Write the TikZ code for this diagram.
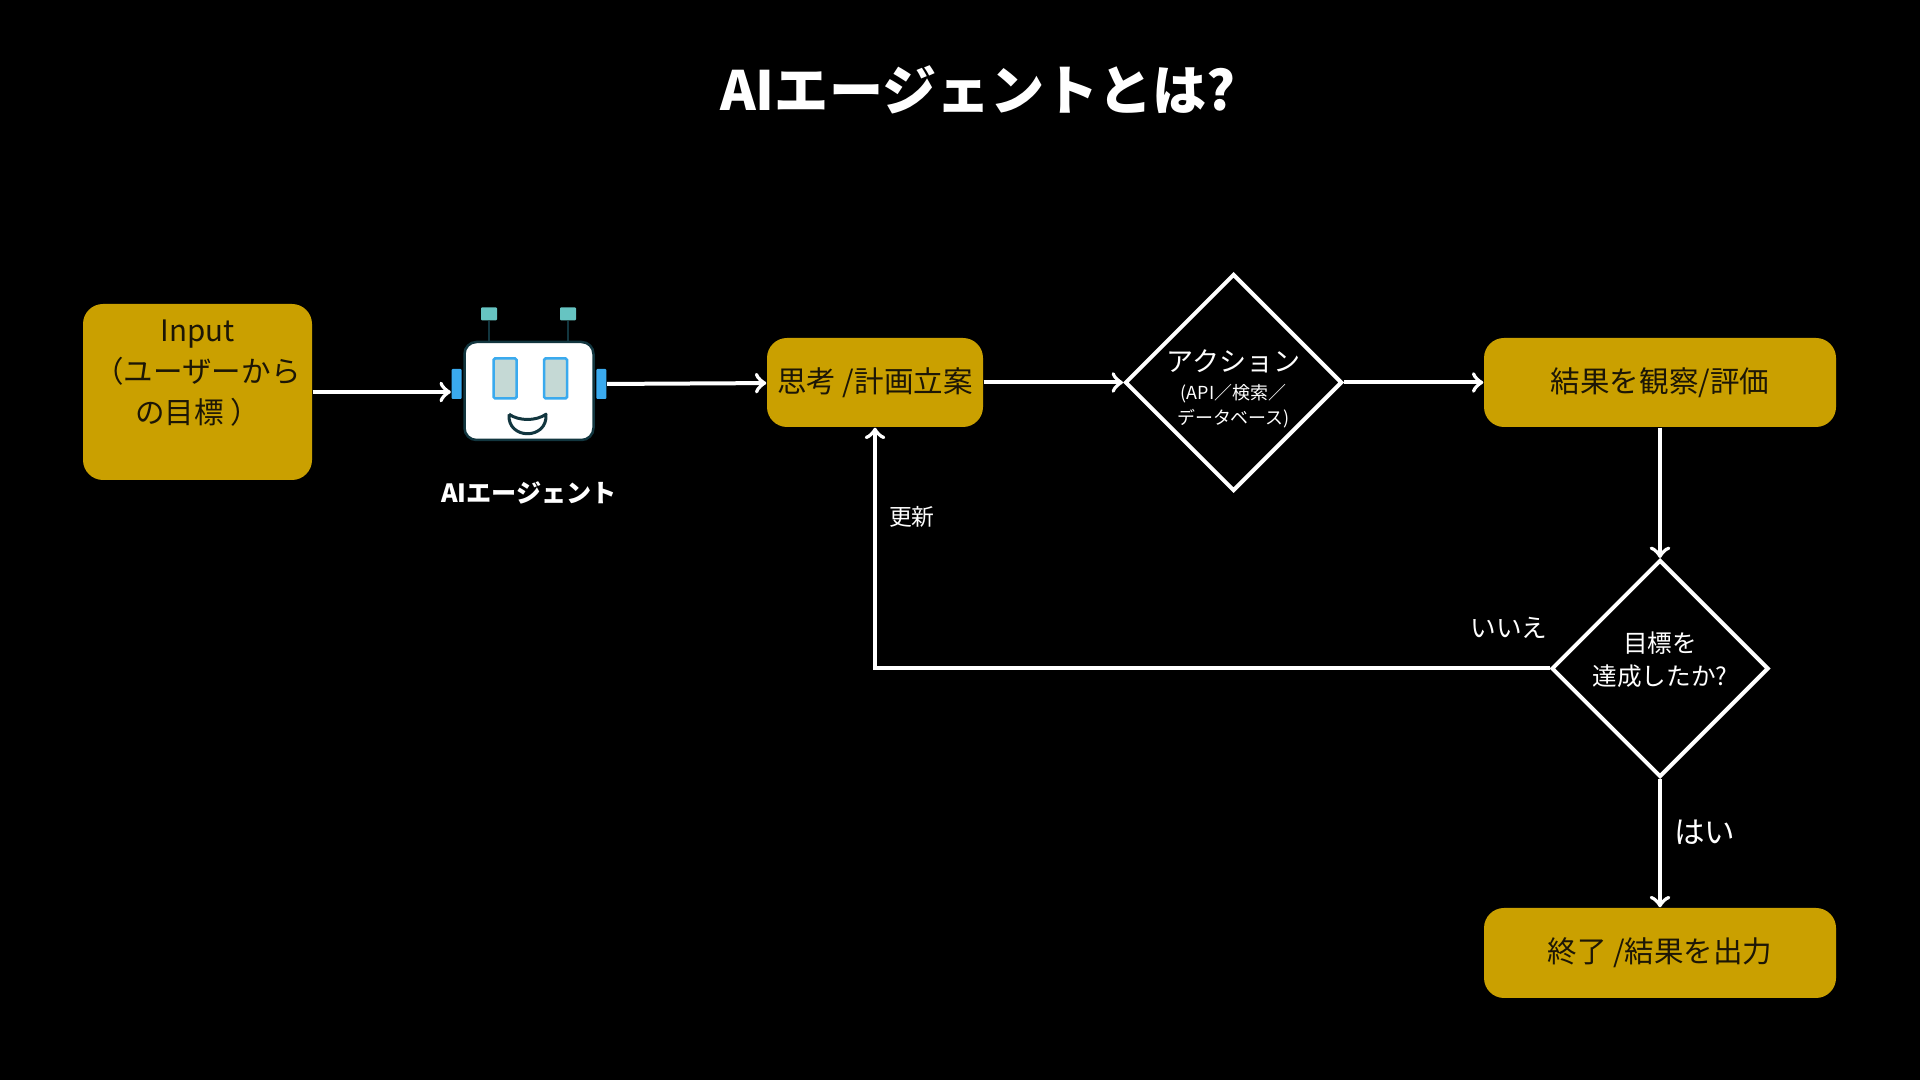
\documentclass[tikz,border=0pt]{standalone}
\usepackage{fontspec}
\setmainfont{Noto Sans CJK JP}
\usetikzlibrary{shapes.geometric, calc, positioning}
\definecolor{agentgold}{RGB}{202, 160, 0}
\definecolor{agentink}{RGB}{28, 22, 6}
\definecolor{agentblue}{RGB}{58, 170, 238}
\definecolor{agentteal}{RGB}{102, 196, 194}
\definecolor{agentdark}{RGB}{18, 54, 63}
\definecolor{agenteye}{RGB}{197, 217, 213}
\tikzset{
    goldbox/.style={rectangle, fill=agentgold, rounded corners=.2cm, inner sep=0pt, text=agentink, align=center, font=\fontsize{8.4}{11.7}\selectfont},
    decision/.style={diamond, draw=white, line width=.04cm, inner sep=0pt, minimum width=2.17cm, minimum height=2.17cm, text=white, align=center},
    flow/.style={->, white, line width=.04cm},
    flowlabel/.style={text=white, inner sep=0pt},
    ear/.style={rectangle, fill=agentblue, rounded corners=.01cm, inner sep=0pt, minimum width=.1cm, minimum height=.3cm},
    eye/.style={rectangle, fill=agenteye, draw=agentblue, line width=.025cm, rounded corners=.015cm, inner sep=0pt, minimum width=.23cm, minimum height=.4cm},
    tip/.style={rectangle, fill=agentteal, rounded corners=.01cm, inner sep=0pt, minimum width=.16cm, minimum height=.13cm},
}
\begin{document}
\begin{tikzpicture}[node distance=2.0cm]
        \fill[black] (0,0) rectangle (19.2,10.8);
        \useasboundingbox (0,0) rectangle (19.2,10.8);
        \node (title) at (9.78,9.906) [text=white, font=\fontsize{15.4}{18}\selectfont\bfseries] {AIエージェントとは?};
        \node (input) at (1.975,6.88) [goldbox, minimum width=2.29cm, minimum height=1.76cm] {Input\\（ユーザーから\\の目標 ）\\\mbox{}};
        % robot
        \node (head) [rectangle, fill=white, draw=agentdark, line width=.025cm, rounded corners=.12cm, inner sep=0pt, minimum width=1.29cm, minimum height=.98cm, right of=input, xshift=1.315cm, yshift=.01cm] {};
        \node (earl) [ear, left=.01cm of head, yshift=.07cm] {};
        \node (earr) [ear, right=.01cm of head, yshift=.07cm] {};
        \node (eyel) [eye, left of=head, xshift=1.76cm, yshift=.125cm] {};
        \node (eyer) [eye, right of=head, xshift=-1.735cm, yshift=.125cm] {};
        \node (tipl) [tip, above of=head, xshift=-.4cm, yshift=-1.23cm] {};
        \node (tipr) [tip, above of=head, xshift=.39cm, yshift=-1.23cm] {};
        \draw[agentdark, line width=.02cm] (tipl) -- (tipl |- head.north);
        \draw[agentdark, line width=.02cm] (tipr) -- (tipr |- head.north);
        \coordinate (mouthl) at ($(head.south)+(-.2,.27)$);
        \coordinate (mouthr) at ($(head.south)+(.17,.27)$);
        \draw[agentdark, line width=.03cm, line join=round] (mouthl) .. controls +(.1,-.07) and +(-.1,-.07) .. (mouthr) .. controls +(.02,-.26) and +(-.02,-.26) .. (mouthl);
        \node (agent) [below of=head, yshift=.98cm, text=white, font=\fontsize{7.15}{9}\selectfont\bfseries] {AIエージェント};
        % flow
        \node (think) [goldbox, minimum width=2.16cm, minimum height=.89cm, right of=head, xshift=1.46cm, yshift=.085cm] {思考 /計画立案};
        \node (action) [decision, right of=think, xshift=1.585cm, font=\fontsize{5.1}{7.1}\selectfont] {\mbox{}\\[.1cm]\makebox[0pt]{\fontsize{7.7}{10}\selectfont アクション}\\[.03cm](API／検索／\\データベース)};
        \node (result) [goldbox, minimum width=3.52cm, minimum height=.89cm, right of=action, xshift=2.265cm] {結果を観察/評価};
        \node (goal) [decision, below of=result, yshift=-.86cm, font=\fontsize{7}{9.4}\selectfont] {目標を\\達成したか?\\[-.14cm]\mbox{}};
        \node (finish) [goldbox, minimum width=3.52cm, minimum height=.9cm, below of=goal, yshift=-.845cm] {終了 /結果を出力};
        \draw[flow] (input) -- (input -| earl.west);
        \draw[flow] (earr) -- (think);
        \draw[flow] (think) -- (action);
        \draw[flow] (action) -- (result);
        \draw[flow] (result) -- (goal);
        \draw[flow] (goal) -| (think) node[flowlabel, pos=.815, right, xshift=.12cm, font=\fontsize{6.5}{8}\selectfont] {更新} node[flowlabel, pos=.03, above, yshift=.28cm, font=\fontsize{7.3}{9}\selectfont] {いいえ};
        \draw[flow] (goal) -- (finish) node[flowlabel, midway, right, xshift=.12cm, yshift=.11cm, font=\fontsize{8.7}{10}\selectfont] {はい};
    \end{tikzpicture}
\end{document}
